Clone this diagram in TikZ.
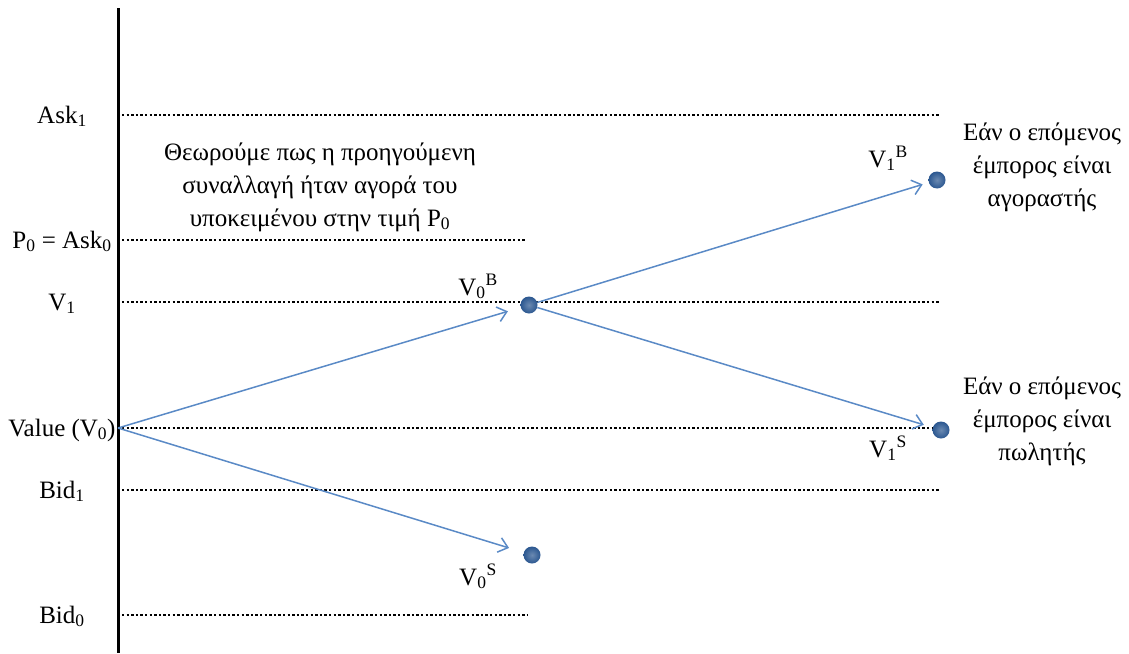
\documentclass[tikz,border=0pt]{standalone}
\usepackage{fontspec}
\setmainfont{Liberation Serif}
\usetikzlibrary{arrows.meta}
\definecolor{flowline}{HTML}{5A8AC6}
\definecolor{stateball}{HTML}{2B5790}
\newcommand{\vst}[2]{V\textsubscript{#1}\textsuperscript{#2}}

\begin{document}
\begin{tikzpicture}[
  x=1pt, y=-1pt,
  font=\fontsize{25}{33}\selectfont,
  >={Straight Barb[length=9pt,width=15pt]},
  level/.style={draw=black, line width=1.3pt, dash pattern=on 2.4pt off 2.2pt},
  ax/.style={draw=black, line width=3pt},
  lvlab/.style={anchor=base, inner sep=0pt},
  ball/.style={circle, inner sep=0pt, minimum size=17pt, shading=radial,
               inner color=stateball!70!white, outer color=stateball},
  flow/.style={->, draw=flowline, line width=1.5pt},
  vlab/.style={anchor=base, inner sep=0pt},
  note/.style={align=center, inner sep=0pt},
]
\useasboundingbox (0,0) rectangle (1129,653);

% ---- price axis ----
\coordinate (top) at (118,8);
\coordinate (bot) at (118,653);
\draw[ax] (top) -- (bot);

% ---- price levels ----
\foreach \y/\xe/\name/\txt in {
    115/940/ask1/{Ask\textsubscript{1}},
    240/525/ask0/{P\textsubscript{0} = Ask\textsubscript{0}},
    302/940/vone/{V\textsubscript{1}},
    428/940/vzero/{Value (V\textsubscript{0})},
    490/940/bid1/{Bid\textsubscript{1}},
    615/528/bid0/{Bid\textsubscript{0}}}{
  \coordinate (\name-a) at (122,\y);
  \coordinate (\name-b) at (\xe,\y);
  \draw[level] (\name-a) -- (\name-b);
  \node[lvlab] (\name-lab) at (62,\y+8) {\txt};
}

% ---- states ----
\coordinate (v0) at (118,428);
\node[ball] (v0b) at (529,305) {};
\node[ball] (v0s) at (532,555) {};
\node[ball] (v1b) at (937,180) {};
\node[ball] (v1s) at (941,430) {};

\node[vlab] (v0b-lab) at (478,295) {\vst{0}{B}};
\node[vlab] (v0s-lab) at (478,585) {\vst{0}{S}};
\node[vlab] (v1b-lab) at (888,167) {\vst{1}{B}};
\node[vlab] (v1s-lab) at (888,457) {\vst{1}{S}};

% ---- moves ----
\draw[flow, shorten >=22pt] (v0) -- (v0b.center);
\draw[flow, shorten >=24pt] (v0) -- (v0s.center);
\draw[flow, shorten >=15pt] (v0b) -- (v1b.center);
\draw[flow, shorten >=18pt] (v0b) -- (v1s.center);

% ---- notes ----
\node[note] (prev) at (320,187) {Θεωρούμε πως η προηγούμενη\\συναλλαγή ήταν αγορά του\\υποκειμένου στην τιμή P\textsubscript{0}};
\node[note] (buyer) at (1042,167) {Εάν ο επόμενος\\έμπορος είναι\\αγοραστής};
\node[note] (seller) at (1042,421) {Εάν ο επόμενος\\έμπορος είναι\\πωλητής};

\end{tikzpicture}
\end{document}
